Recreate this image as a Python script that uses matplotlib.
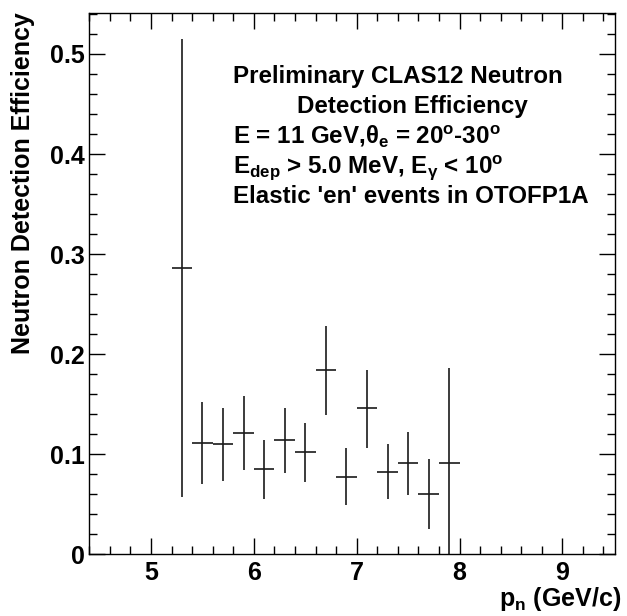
import numpy as np
import matplotlib
matplotlib.use("Agg")
import matplotlib.pyplot as plt
from matplotlib.ticker import MultipleLocator

# neutron momentum bin centres (GeV/c) and efficiency with asymmetric errors
p_n = [5.3, 5.5, 5.7, 5.9, 6.1, 6.3, 6.5, 6.7, 6.9, 7.1, 7.3, 7.5, 7.7, 7.9]
eff = [0.286, 0.111, 0.110, 0.121, 0.085, 0.114, 0.102, 0.184, 0.077, 0.146, 0.082, 0.091, 0.060, 0.091]
eff_hi = [0.515, 0.152, 0.146, 0.158, 0.114, 0.146, 0.131, 0.228, 0.106, 0.184, 0.110, 0.122, 0.095, 0.186]
eff_lo = [0.057, 0.070, 0.073, 0.084, 0.055, 0.081, 0.072, 0.139, 0.049, 0.106, 0.055, 0.059, 0.025, 0.0]
bin_half = 0.1

info_lines = [
    "Preliminary CLAS12 Neutron",
    "Detection Efficiency",
    r"E = 11 GeV,$\theta_{e}$ = 20$^{o}$-30$^{o}$",
    r"E$_{dep}$ > 5.0 MeV, E$_{\gamma}$ < 10$^{o}$",
    "Elastic 'en' events in OTOFP1A",
]

plt.rcParams["font.family"] = "Liberation Sans"
plt.rcParams["font.weight"] = "bold"
plt.rcParams["mathtext.fontset"] = "custom"
plt.rcParams["mathtext.rm"] = "Liberation Sans:bold"
plt.rcParams["mathtext.it"] = "Liberation Sans:bold"
plt.rcParams["mathtext.bf"] = "Liberation Sans:bold"
plt.rcParams["mathtext.default"] = "regular"

fig = plt.figure(figsize=(6.27, 6.16), dpi=100)
ax = fig.add_axes([0.1425, 0.1006, 0.8388, 0.8788])

y = np.array(eff)
yerr = [y - np.array(eff_lo), np.array(eff_hi) - y]
ax.errorbar(p_n, y, xerr=bin_half, yerr=yerr, fmt="none", ecolor="#1a1a1a",
            elinewidth=1.2, capsize=0)

ax.set_xlim(4.4, 9.515)
ax.set_ylim(0, 0.5413)

ax.xaxis.set_major_locator(MultipleLocator(1))
ax.xaxis.set_minor_locator(MultipleLocator(0.2))
ax.yaxis.set_major_locator(MultipleLocator(0.1))
ax.yaxis.set_minor_locator(MultipleLocator(0.02))
ax.set_yticks([0, 0.1, 0.2, 0.3, 0.4, 0.5])
ax.set_yticklabels(["0", "0.1", "0.2", "0.3", "0.4", "0.5"])

ax.tick_params(which="both", direction="in", top=True, right=True, width=1, labelsize=18)
ax.tick_params(which="major", length=11.5)
ax.tick_params(which="minor", length=5.8)
ax.tick_params(axis="x", pad=5)
ax.tick_params(axis="y", pad=3)
for s in ax.spines.values():
    s.set_linewidth(1)

ax.set_xlabel(r"p$_{n}$ (GeV/c)", fontsize=18, fontweight="bold")
ax.xaxis.set_label_coords(1.012, -0.096)
ax.xaxis.label.set_horizontalalignment("right")
ax.xaxis.label.set_verticalalignment("baseline")
ax.set_ylabel("Neutron Detection Efficiency", fontsize=18, fontweight="bold")
ax.yaxis.set_label_coords(-0.126, 1.0)
ax.yaxis.label.set_verticalalignment("center")
ax.yaxis.label.set_horizontalalignment("right")

# text block, positions in data coordinates
text_x = [5.796, 6.417, 5.796, 5.796, 5.796]
text_y = [0.471, 0.441, 0.411, 0.381, 0.351]
for tx, ty, line in zip(text_x, text_y, info_lines):
    ax.text(tx, ty, line, fontsize=17.4, fontweight="bold", va="baseline", ha="left")

fig.savefig("out.png", dpi=100)
